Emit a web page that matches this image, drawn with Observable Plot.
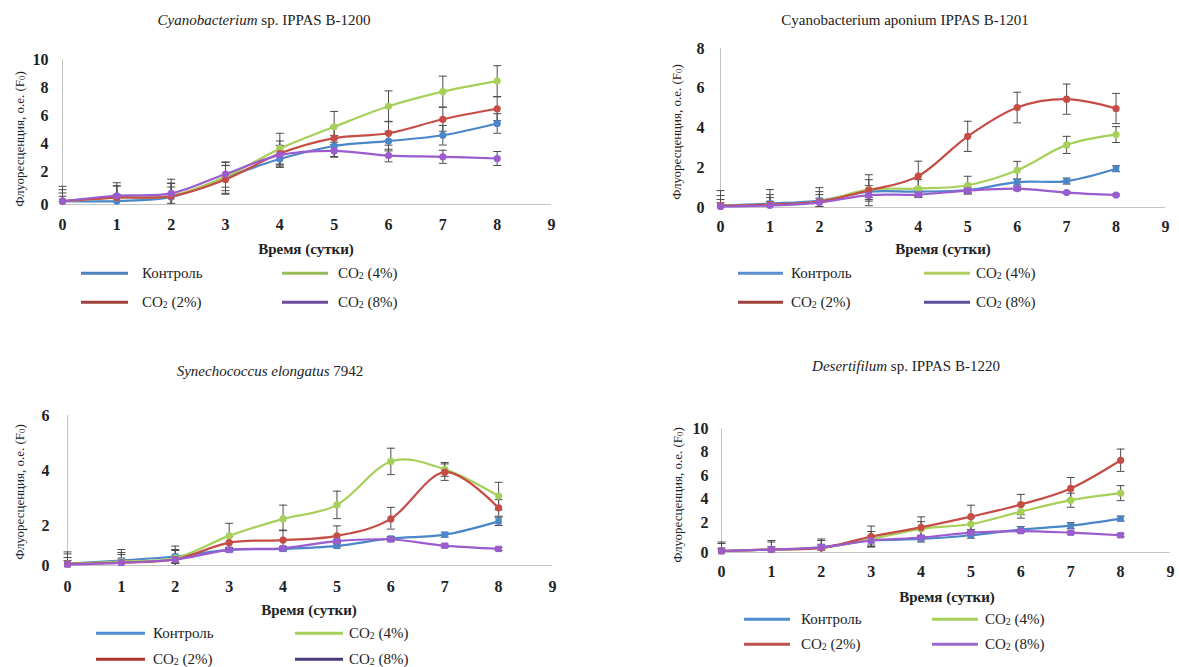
<!DOCTYPE html>
<html>
<head>
<meta charset="utf-8">
<script src="https://cdn.jsdelivr.net/npm/d3@7"></script>
<script src="https://cdn.jsdelivr.net/npm/@observablehq/plot@0.6"></script>
<style>
html,body{margin:0;padding:0;background:#fff;}
#root{position:relative;width:1179px;height:667px;overflow:hidden;font-family:"Liberation Serif","Times New Roman",serif;color:#222;}
.panel{position:absolute;}
.title{position:absolute;font-size:15px;white-space:nowrap;transform:translate(-50%,-50%);}
.xlab{position:absolute;font-size:15px;font-weight:bold;white-space:nowrap;transform:translate(-50%,-50%);}
.ylab{position:absolute;font-size:13px;white-space:nowrap;transform:translate(-50%,-50%) rotate(-90deg);}
.leg-line{position:absolute;height:2.5px;transform:translateY(-50%);}
.leg-text{position:absolute;font-size:15px;white-space:nowrap;transform:translateY(-50%);}
sub{font-size:0.66em;vertical-align:-0.12em;line-height:0;}
</style>
</head>
<body>
<div id="root"></div>
<script>
// ---------- data ----------
const days = [0, 1, 2, 3, 4, 5, 6, 7, 8];
const xTicks = [0, 1, 2, 3, 4, 5, 6, 7, 8, 9];
// series order (legend row-wise): Контроль, CO2 (4%), CO2 (2%), CO2 (8%)
const seriesLabels = ["Контроль", "CO₂ (4%)", "CO₂ (2%)", "CO₂ (8%)"];
const lineColors = ["#4a86c8", "#a6d05a", "#c64c46", "#9a5ccf"];
const xLabel = "Время (сутки)";
const yLabel = "Флуоресценция, о.е. (F<sub>0</sub>)";

const titles = [
  "<i>Cyanobacterium</i> sp. IPPAS B-1200",
  "Cyanobacterium aponium IPPAS B-1201",
  "<i>Synechococcus elongatus</i> 7942",
  "<i>Desertifilum</i> sp. IPPAS B-1220"
];

const p1YTicks = [0, 2, 4, 6, 8, 10];
const p2YTicks = [0, 2, 4, 6, 8];
const p3YTicks = [0, 2, 4, 6];
const p4YTicks = [0, 2, 4, 6, 8, 10];

// Panel 1: Cyanobacterium sp. IPPAS B-1200
const p1Ctrl  = [0.20, 0.21, 0.46, 1.64, 2.89, 3.82, 4.17, 4.59, 5.43];
const p1Co2_4 = [0.20, 0.42, 0.53, 1.68, 3.63, 5.19, 6.66, 7.71, 8.46];
const p1Co2_2 = [0.20, 0.42, 0.50, 1.52, 3.28, 4.38, 4.73, 5.73, 6.48];
const p1Co2_8 = [0.20, 0.53, 0.67, 1.85, 3.17, 3.47, 3.14, 3.05, 2.93];
const p1CtrlErr  = [0.50, 0.40, 0.60, 0.80, 0.60, 0.75, 0.70, 0.70, 0.70];
const p1Co2_4Err = [0.90, 0.90, 1.00, 1.00, 1.10, 1.10, 1.10, 1.10, 1.10];
const p1Co2_2Err = [0.70, 0.70, 0.80, 0.90, 0.90, 0.85, 0.85, 0.85, 0.85];
const p1Co2_8Err = [0.30, 0.60, 0.60, 0.80, 0.70, 0.45, 0.45, 0.47, 0.50];

// Panel 2: Cyanobacterium aponium IPPAS B-1201
const p2Ctrl  = [0.10, 0.20, 0.35, 0.80, 0.80, 0.87, 1.28, 1.33, 1.95];
const p2Co2_4 = [0.10, 0.15, 0.30, 0.90, 0.95, 1.12, 1.87, 3.15, 3.67];
const p2Co2_2 = [0.10, 0.15, 0.30, 0.87, 1.58, 3.58, 5.03, 5.45, 4.98];
const p2Co2_8 = [0.05, 0.10, 0.25, 0.62, 0.65, 0.85, 0.95, 0.75, 0.63];
const p2CtrlErr  = [0.30, 0.30, 0.30, 0.30, 0.20, 0.15, 0.15, 0.15, 0.15];
const p2Co2_4Err = [0.50, 0.50, 0.50, 0.50, 0.45, 0.45, 0.45, 0.43, 0.40];
const p2Co2_2Err = [0.75, 0.75, 0.70, 0.78, 0.75, 0.76, 0.77, 0.76, 0.76];
const p2Co2_8Err = [0.20, 0.20, 0.20, 0.30, 0.10, 0.10, 0.10, 0.05, 0.05];

// Panel 3: Synechococcus elongatus 7942
const p3Ctrl  = [0.10, 0.25, 0.45, 0.78, 0.83, 0.98, 1.35, 1.54, 2.15];
const p3Co2_4 = [0.08, 0.20, 0.37, 1.48, 2.24, 2.75, 4.33, 4.04, 3.07];
const p3Co2_2 = [0.08, 0.15, 0.30, 1.14, 1.27, 1.48, 2.24, 3.94, 2.64];
const p3Co2_8 = [0.05, 0.13, 0.30, 0.78, 0.86, 1.22, 1.30, 0.99, 0.83];
const p3CtrlErr  = [0.30, 0.30, 0.30, 0.10, 0.10, 0.10, 0.10, 0.12, 0.15];
const p3Co2_4Err = [0.60, 0.60, 0.60, 0.60, 0.50, 0.50, 0.48, 0.25, 0.50];
const p3Co2_2Err = [0.50, 0.50, 0.50, 0.30, 0.50, 0.50, 0.42, 0.30, 0.30];
const p3Co2_8Err = [0.20, 0.20, 0.20, 0.08, 0.08, 0.08, 0.08, 0.08, 0.08];

// Panel 4: Desertifilum sp. IPPAS B-1220
const p4Ctrl  = [0.10, 0.20, 0.35, 0.80, 0.90, 1.15, 1.53, 1.79, 2.33];
const p4Co2_4 = [0.10, 0.20, 0.30, 0.90, 1.57, 1.90, 2.92, 3.90, 4.50];
const p4Co2_2 = [0.10, 0.20, 0.30, 1.06, 1.68, 2.50, 3.53, 4.90, 7.30];
const p4Co2_8 = [0.10, 0.20, 0.35, 0.80, 1.00, 1.32, 1.43, 1.32, 1.15];
const p4CtrlErr  = [0.20, 0.20, 0.20, 0.30, 0.20, 0.20, 0.20, 0.20, 0.20];
const p4Co2_4Err = [0.50, 0.50, 0.50, 0.50, 0.50, 0.50, 0.55, 0.60, 0.64];
const p4Co2_2Err = [0.60, 0.60, 0.60, 0.70, 0.80, 0.97, 0.86, 0.93, 0.95];
const p4Co2_8Err = [0.10, 0.10, 0.10, 0.10, 0.10, 0.10, 0.10, 0.10, 0.10];

// ---------- layout ----------
const panels = [
  {vals: [p1Ctrl, p1Co2_4, p1Co2_2, p1Co2_8], errs: [p1CtrlErr, p1Co2_4Err, p1Co2_2Err, p1Co2_8Err],
   yTicks: p1YTicks, yDomain: [0, 2, 10], yAbs: [204, 171, 59],
   left: 0, top: 40, width: 575, height: 200, x0: 62, x9: 551, xPad: 14, yPad: 14,
   symbols: ["circle", "circle", "circle", "circle"],
   title: [264, 20], xlab: [306, 249], ylab: [20, 139],
   legRows: [273, 302], legCols: [[81, 128, 142], [282, 328, 338]],
   legColors: ["#4f81bd", "#9bbb59", "#a0403c", "#6a4e9c"]},
  {vals: [p2Ctrl, p2Co2_4, p2Co2_2, p2Co2_8], errs: [p2CtrlErr, p2Co2_4Err, p2Co2_2Err, p2Co2_8Err],
   yTicks: p2YTicks, yDomain: [0, 8], yAbs: [207, 48],
   left: 660, top: 28, width: 519, height: 210, x0: 720, x9: 1165, xPad: 13, yPad: 16,
   symbols: ["square", "circle", "circle", "circle"],
   title: [905, 20], xlab: [943, 249], ylab: [677, 132],
   legRows: [273, 302], legCols: [[738, 783, 791], [924, 970, 976]],
   legColors: ["#5b8fd0", "#b0d060", "#a0403c", "#5f4f9a"]},
  {vals: [p3Ctrl, p3Co2_4, p3Co2_2, p3Co2_8], errs: [p3CtrlErr, p3Co2_4Err, p3Co2_2Err, p3Co2_8Err],
   yTicks: p3YTicks, yDomain: [0, 2, 6], yAbs: [565, 525, 415],
   left: 0, top: 395, width: 575, height: 210, x0: 67, x9: 552, xPad: 15, yPad: 18,
   symbols: ["square", "circle", "circle", "square"],
   title: [270, 371], xlab: [309, 610], ylab: [20, 492],
   legRows: [633, 659], legCols: [[96, 145, 153], [295, 343, 349]],
   legColors: ["#4f8fd0", "#a6d05a", "#b03430", "#4a3a7a"]},
  {vals: [p4Ctrl, p4Co2_4, p4Co2_2, p4Co2_8], errs: [p4CtrlErr, p4Co2_4Err, p4Co2_2Err, p4Co2_8Err],
   yTicks: p4YTicks, yDomain: [0, 2, 10], yAbs: [552, 522, 428],
   left: 660, top: 415, width: 519, height: 175, x0: 721, x9: 1170, xPad: 13, yPad: 13,
   symbols: ["square", "circle", "circle", "square"],
   title: [906, 366], xlab: [947, 597], ylab: [678, 495],
   legRows: [619, 644], legCols: [[744, 790, 801], [932, 978, 985]],
   legColors: ["#4f8fd0", "#a6d05a", "#c0504d", "#9b6bd0"]}
];

const root = document.getElementById("root");
function addDiv(cls, html, x, y) {
  const d = document.createElement("div");
  d.className = cls;
  d.innerHTML = html;
  d.style.left = x + "px";
  d.style.top = y + "px";
  root.appendChild(d);
  return d;
}
const capSymbol = {
  draw(ctx, size) {
    const w = Math.sqrt(size / Math.PI);
    ctx.moveTo(-w, 0);
    ctx.lineTo(w, 0);
  }
};

panels.forEach((cfg, pi) => {
  const rows = [];
  seriesLabels.forEach((s, si) => {
    days.forEach((d, i) => rows.push({day: d, v: cfg.vals[si][i], e: cfg.errs[si][i], s}));
  });
  const lo = rows.map(d => ({...d, lo: Math.max(0, d.v - d.e), hi: d.v + d.e}));
  const last = cfg.yAbs.length - 1;
  // piecewise warp of the value axis, as drawn in the reference (the 0–2 gap differs)
  const warp = d3.scaleLinear().domain(cfg.yDomain).range(cfg.yAbs.map(a => cfg.yAbs[0] - a));
  const mt = cfg.yAbs[last] - cfg.top;
  const mb = cfg.top + cfg.height - cfg.yAbs[0];
  const ml = cfg.x0 - cfg.left;
  const mr = cfg.left + cfg.width - cfg.x9;

  const chart = Plot.plot({
    width: cfg.width,
    height: cfg.height,
    marginTop: mt, marginBottom: mb, marginLeft: ml, marginRight: mr,
    x: {domain: [0, 9]},
    y: {transform: warp, domain: [0, cfg.yAbs[0] - cfg.yAbs[last]]},
    color: {domain: seriesLabels, range: lineColors},
    symbol: {domain: seriesLabels, range: cfg.symbols},
    style: {fontFamily: "'Liberation Serif','Times New Roman',serif", fontSize: "16px", fontWeight: "bold", color: "#222", background: "transparent", overflow: "visible"},
    marks: [
      Plot.ruleY([0], {stroke: "#c4c4c4", strokeWidth: 1}),
      Plot.ruleX([0], {stroke: "#c4c4c4", strokeWidth: 1}),
      Plot.axisX({ticks: xTicks, tickSize: 0, tickPadding: cfg.xPad, label: null}),
      // axis ticks are not passed through the scale transform, so place them in warped units
      Plot.axisY({ticks: cfg.yTicks.map(warp), tickSize: 0, tickPadding: cfg.yPad, label: null,
                  tickFormat: t => String(Math.round(warp.invert(t)))}),
      Plot.ruleX(lo, {x: "day", y1: "lo", y2: "hi", stroke: "#4d4d4d", strokeWidth: 1}),
      Plot.dot(lo, {x: "day", y: "hi", symbol: capSymbol, r: 4, stroke: "#4d4d4d", strokeWidth: 1, fill: "none"}),
      Plot.dot(lo.filter(d => d.lo > 0), {x: "day", y: "lo", symbol: capSymbol, r: 4, stroke: "#4d4d4d", strokeWidth: 1, fill: "none"}),
      Plot.line(rows, {x: "day", y: "v", z: "s", stroke: "s", strokeWidth: 2.2, curve: "cardinal"}),
      Plot.dot(rows, {x: "day", y: "v", fill: "s", symbol: "s", r: 3.6, stroke: "none"})
    ]
  });
  const wrap = document.createElement("div");
  wrap.className = "panel";
  wrap.style.left = cfg.left + "px";
  wrap.style.top = cfg.top + "px";
  wrap.appendChild(chart);
  root.appendChild(wrap);

  addDiv("title", titles[pi], cfg.title[0], cfg.title[1]);
  addDiv("xlab", xLabel, cfg.xlab[0], cfg.xlab[1]);
  addDiv("ylab", yLabel, cfg.ylab[0], cfg.ylab[1]);
  seriesLabels.forEach((s, si) => {
    const row = Math.floor(si / 2), col = si % 2;
    const [x1, x2, tx] = cfg.legCols[col];
    const y = cfg.legRows[row];
    const ln = addDiv("leg-line", "", x1, y);
    ln.style.width = (x2 - x1) + "px";
    ln.style.background = cfg.legColors[si];
    addDiv("leg-text", s.replace("₂", "<sub>2</sub>"), tx, y);
  });
});
</script>
</body>
</html>
